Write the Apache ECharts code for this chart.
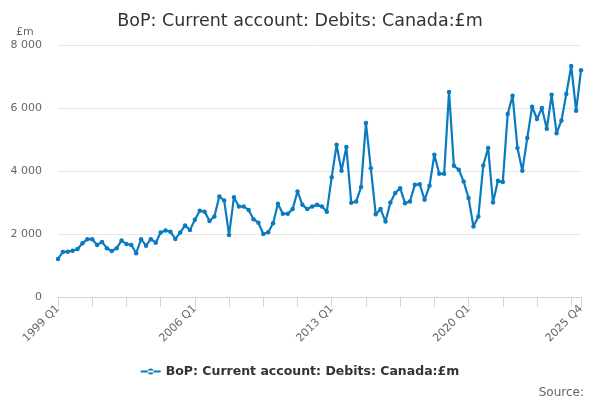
<!DOCTYPE html>
<html>
<head>
<meta charset="utf-8">
<script src="https://cdn.jsdelivr.net/npm/echarts@6/dist/echarts.min.js"></script>
<style>html,body{margin:0;padding:0;background:#fff}#c{width:600px;height:400px}</style>
</head>
<body>
<div id="c"></div>
<script>
const years = [];
for (let y = 1999; y <= 2025; y++) for (let q = 1; q <= 4; q++) years.push(y + ' Q' + q);
const categories = years;
const debits = [
1210,1430,1440,1470,1525,1705,1835,1835,1650,1750,1550,1460,1550,1790,1685,1650,
1390,1835,1630,1835,1725,2045,2110,2075,1845,2045,2270,2130,2450,2735,2710,2415,
2555,3190,3060,1970,3170,2870,2870,2765,2470,2360,2000,2055,2340,2960,2640,2640,
2790,3350,2925,2790,2870,2925,2870,2710,3805,4830,4005,4760,2990,3030,3490,5520,
4090,2630,2790,2395,3000,3300,3455,2980,3030,3560,3580,3085,3530,4515,3910,3910,
6510,4165,4040,3665,3140,2235,2555,4175,4730,3000,3690,3650,5810,6390,4730,4005,
5045,6040,5650,6000,5340,6420,5200,5600,6445,7335,5915,7195
];
const yTicks = [0, 2000, 4000, 6000, 8000];
const seriesName = 'BoP: Current account: Debits: Canada:£m';
const font = 'DejaVu Sans';
const last = categories.length - 1;
const chart = echarts.init(document.getElementById('c'));
chart.setOption({
  animation: false,
  textStyle: {fontFamily: font},
  title: [
    {text: seriesName, left: 'center', top: 7, textStyle: {fontFamily: font, fontSize: 17.5, fontWeight: 'normal', color: '#333'}},
    {text: '£m', left: 11, top: 22, textStyle: {fontFamily: font, fontSize: 11, fontWeight: 'normal', color: '#666'}},
    {text: 'Source:', right: 11, top: 382, textStyle: {fontFamily: font, fontSize: 12, fontWeight: 'normal', color: '#666'}}
  ],
  legend: {
    bottom: 17, left: 'center',
    itemWidth: 20, itemHeight: 10,
    textStyle: {fontFamily: font, fontSize: 12.5, fontWeight: 'bold', color: '#333'},
    data: [{name: seriesName, icon: 'path://M0,4 L20,4 L20,6 L0,6 Z M10,5 m-3,0 a3,3 0 1,0 6,0 a3,3 0 1,0 -6,0'}]
  },
  grid: {left: 58, right: 19, top: 45, bottom: 103},
  xAxis: {
    type: 'category', data: categories, boundaryGap: false,
    axisLine: {lineStyle: {color: '#ccd6eb'}},
    axisTick: {length: 10, lineStyle: {color: '#ccd6eb'}, interval: (i) => i % 7 === 0 || i === last},
    axisLabel: {rotate: 45, fontSize: 11, color: '#666', margin: 10, interval: (i) => i % 28 === 0 || i === last},
    splitLine: {show: false}
  },
  yAxis: {
    type: 'value', min: yTicks[0], max: yTicks[yTicks.length - 1], interval: 2000,
    axisLine: {show: false}, axisTick: {show: false},
    axisLabel: {fontSize: 11, color: '#666', margin: 16, formatter: (v) => String(v).replace(/\B(?=(\d{3})+(?!\d))/g, ' ')},
    splitLine: {lineStyle: {color: '#e6e6e6'}}
  },
  series: [{
    name: seriesName, type: 'line', data: debits,
    symbol: 'circle', symbolSize: 4.5, showAllSymbol: true,
    lineStyle: {width: 2.2, color: '#0b7bc1'},
    itemStyle: {color: '#0b7bc1'}
  }]
});
</script>
</body>
</html>
